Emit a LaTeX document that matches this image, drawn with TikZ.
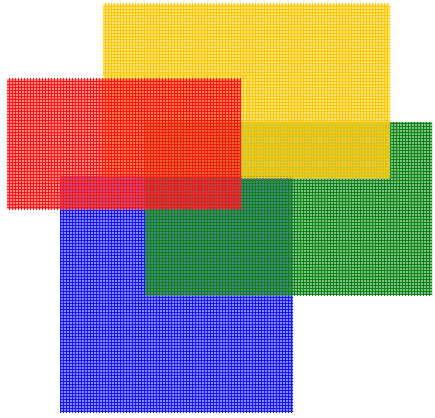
\documentclass[tikz,border=0pt]{standalone}
\usepackage{tikz}
\usetikzlibrary{patterns}
\definecolor{gold}{RGB}{255,200,0}
\definecolor{leaf}{RGB}{10,130,20}
\definecolor{ink}{RGB}{20,20,255}
\definecolor{rose}{RGB}{255,20,20}

\begin{document}
\begin{tikzpicture}[x=1pt, y=-1pt,
    sheet/.style={fill=#1, fill opacity=0.5},
    weave/.style={pattern=grid, pattern color=#1, fill opacity=0.8}]

\useasboundingbox (0,0) rectangle (435,417);

% bottom to top: blue, green, yellow, red
\foreach \col/\xa/\ya/\xb/\yb in {ink/60/176/293/412, leaf/145/122/432/295, gold/103/4/390/178, rose/7/79/241/209}{
  \fill [sheet=\col] (\xa,\ya) rectangle (\xb,\yb);
  \fill [weave=\col] (\xa,\ya) rectangle (\xb,\yb);
}

\end{tikzpicture}
\end{document}
